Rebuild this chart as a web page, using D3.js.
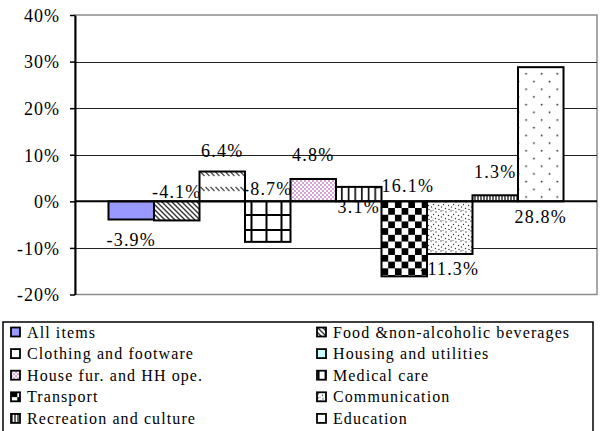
<!DOCTYPE html>
<html>
<head>
<meta charset="utf-8">
<title>CPI change by group</title>
<script src="https://cdn.jsdelivr.net/npm/d3@7"></script>
<style>
  body { margin: 0; background: #fff; }
  svg text { fill: #000; }
</style>
</head>
<body>
<svg id="chart" width="604" height="431"></svg>
<script>
// data
var categories = ["All items", "Food &non-alcoholic beverages", "Clothing and footware",
  "Housing and utilities", "House fur. and HH ope.", "Medical care", "Transport",
  "Communication", "Recreation and culture", "Education"];
var values = [-3.9, -4.1, 6.4, -8.7, 4.8, 3.1, -16.1, -11.3, 1.3, 28.8];
var yTicks = [-20, -10, 0, 10, 20, 30, 40];

// where excel put each value label (px from the zero line)
var labelDy = [45, -3, -44, -6, -40, 12, -9, 74, -23, 22];

var font = "'Liberation Serif', 'Noto Serif', 'Liberation Sans', sans-serif";
var svg = d3.select("#chart");

var x = d3.scaleBand().domain(categories).range([75, 597]).paddingInner(0).paddingOuter(0.736);
var y = d3.scaleLinear().domain([-20, 40]).range([294.5, 15]);

var defs = svg.append("defs");

function pat(id, w, h) {
  var p = defs.append("pattern").attr("id", id)
    .attr("patternUnits", "userSpaceOnUse").attr("width", w).attr("height", h);
  p.append("rect").attr("width", w).attr("height", h).attr("fill", "#fff");
  return p;
}

// food: backslash hatch
pat("p1", 5, 5).append("path").attr("d", "M0,0L5,5M-1,4L1,6M4,-1L6,1")
  .attr("stroke", "#333").attr("stroke-width", 1.4);
// clothing: rows of short dashes
pat("p2", 5, 15).append("path").attr("d", "M0.5,7L4.5,11")
  .attr("stroke", "#555").attr("stroke-width", 1.5);
// housing: big grid
pat("p3", 15, 15).append("path").attr("d", "M11.5,0V15M0,5H15")
  .attr("stroke", "#000").attr("stroke-width", 2);
// house furnishing: purple dots
var p4 = pat("p4", 4, 4);
p4.append("circle").attr("cx", 1).attr("cy", 1).attr("r", 0.8).attr("fill", "#993399");
p4.append("circle").attr("cx", 3).attr("cy", 3).attr("r", 0.8).attr("fill", "#993399");
// medical: vertical lines
pat("p5", 6.67, 6.67).append("path").attr("d", "M1.7,0V6.67")
  .attr("stroke", "#000").attr("stroke-width", 1.6);
// transport: checkerboard
var p6 = pat("p6", 13.4, 13.4)
  .attr("x", x(categories[6])).attr("y", y(0));
p6.append("rect").attr("width", 6.7).attr("height", 6.7).attr("fill", "#000");
p6.append("rect").attr("x", 6.7).attr("y", 6.7).attr("width", 6.7).attr("height", 6.7).attr("fill", "#000");
// communication: scattered dots
var p7 = pat("p7", 10, 10);
[[1, 1], [6, 2], [3.5, 4.5], [8.5, 5.5], [1.5, 7], [5.5, 8.5], [9, 9.5], [3, 0]].forEach(function (d) {
  p7.append("circle").attr("cx", d[0]).attr("cy", d[1]).attr("r", 0.7).attr("fill", "#333");
});
// recreation: dense vertical lines
pat("p8", 3, 3).append("path").attr("d", "M1,0V3")
  .attr("stroke", "#000").attr("stroke-width", 1.2);
// education: sparse dots
var p9 = pat("p9", 15.6, 15.4);
p9.append("circle").attr("cx", 3.5).attr("cy", 4.5).attr("r", 0.9).attr("fill", "#222");
p9.append("circle").attr("cx", 11.3).attr("cy", 12.2).attr("r", 0.9).attr("fill", "#222");

var fills = ["#9999ff", "url(#p1)", "url(#p2)", "url(#p3)", "url(#p4)",
  "url(#p5)", "url(#p6)", "url(#p7)", "url(#p8)", "url(#p9)"];
var legendFills = fills.slice();
legendFills[3] = "#ccffff";

function pct(d) { return d.toFixed(1) + "%"; }

// plot frame
svg.append("rect").attr("x", 75).attr("y", y(40)).attr("width", 522).attr("height", y(-20) - y(40))
  .attr("fill", "none").attr("stroke", "#8c8c8c").attr("stroke-width", 1.5);

// gridlines
svg.append("g").selectAll("line")
  .data(yTicks.filter(function (d) { return d !== 0 && d !== 40 && d !== -20; }))
  .enter().append("line")
  .attr("x1", 75).attr("x2", 597)
  .attr("y1", function (d) { return Math.round(y(d)) + 0.5; })
  .attr("y2", function (d) { return Math.round(y(d)) + 0.5; })
  .attr("stroke", "#222").attr("stroke-width", 1);

// bars
svg.append("g").selectAll("rect")
  .data(values)
  .enter().append("rect")
  .attr("x", function (d, i) { return x(categories[i]); })
  .attr("y", function (d) { return y(Math.max(0, d)); })
  .attr("width", x.bandwidth())
  .attr("height", function (d) { return Math.abs(y(d) - y(0)); })
  .attr("fill", function (d, i) { return fills[i]; })
  .attr("stroke", "#000").attr("stroke-width", 2);

// zero line
svg.append("line").attr("x1", 75).attr("x2", 597).attr("y1", y(0)).attr("y2", y(0))
  .attr("stroke", "#000").attr("stroke-width", 2);

// y axis
var yAxis = svg.append("g").attr("transform", "translate(75,0)")
  .call(d3.axisLeft(y).tickValues(yTicks).tickSize(5).tickSizeOuter(0).tickPadding(10)
    .tickFormat(function (d) { return d + "%"; }));
yAxis.select(".domain").attr("stroke", "#000").attr("stroke-width", 2);
yAxis.selectAll(".tick line").attr("stroke", "#000").attr("stroke-width", 1.5);
yAxis.selectAll(".tick text")
  .style("font-family", font)
  .style("font-size", "18px").style("letter-spacing", "1px").attr("dy", "0.35em");

// value labels
svg.append("g").selectAll("text")
  .data(values)
  .enter().append("text")
  .attr("x", function (d, i) { return x(categories[i]) + x.bandwidth() / 2; })
  .attr("y", function (d, i) { return y(0) + labelDy[i]; })
  .attr("text-anchor", "middle")
  .style("font-family", font)
  .style("font-size", "18px").style("letter-spacing", "1.2px")
  .text(pct);

// legend
svg.append("rect").attr("x", 3).attr("y", 322).attr("width", 590).attr("height", 130)
  .attr("fill", "#fff").attr("stroke", "#000").attr("stroke-width", 1.5);

var leg = svg.append("g").selectAll("g")
  .data(categories)
  .enter().append("g")
  .attr("transform", function (d, i) {
    return "translate(" + (i % 2 === 0 ? 11 : 317) + "," + (332 + Math.floor(i / 2) * 21.6) + ")";
  });
leg.append("rect").attr("x", 0).attr("y", -4.5).attr("width", 9).attr("height", 9)
  .attr("fill", function (d, i) { return legendFills[i]; })
  .attr("stroke", "#000").attr("stroke-width", 1.8);
leg.append("text").attr("x", 16).attr("dy", "0.35em")
  .style("font-family", font)
  .style("font-size", "16px").style("letter-spacing", "1.1px")
  .text(function (d) { return d; });
</script>
</body>
</html>
